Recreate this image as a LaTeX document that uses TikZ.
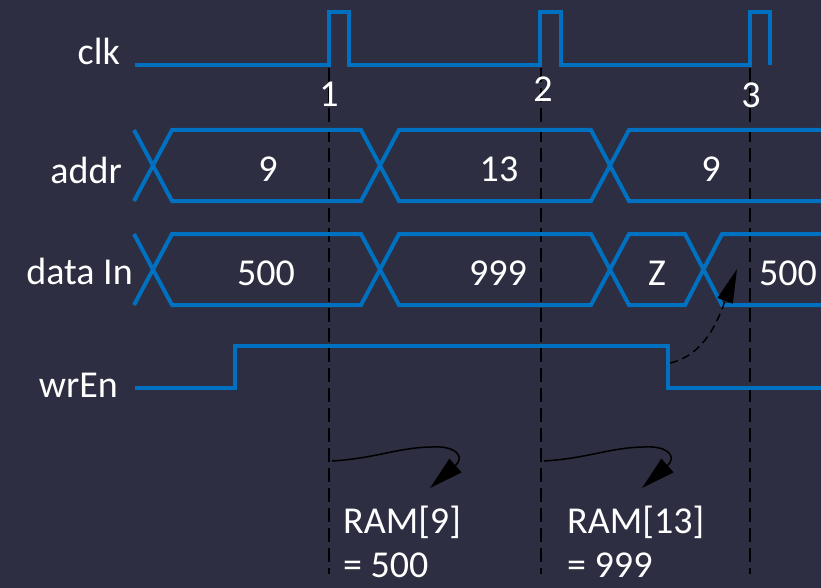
\documentclass[tikz,border=0pt]{standalone}
\usepackage{fontspec}
\setmainfont{Carlito}
\usetikzlibrary{arrows.meta}
\definecolor{bgnavy}{HTML}{2D2E41}
\definecolor{sigblue}{HTML}{0070C0}

\begin{document}
\begin{tikzpicture}[x=1pt,y=-1pt,
  sig/.style={sigblue, line width=4pt},
  edgeline/.style={black, line width=1.3pt, dash pattern=on 14pt off 6pt},
  txt/.style={text=white, inner sep=0pt, font=\fontsize{38}{46}\selectfont},
  wrarrow/.style={black, line width=1.5pt, -{Triangle[length=34pt,width=18pt]}}]
\fill[bgnavy] (0,0) rectangle (821,588);
\clip (0,0) rectangle (821,588);

% clock edges
\foreach \x in {329,541,750}
  \draw[edgeline] (\x,68) -- (\x,574);

% signal names
\node[txt, anchor=base east] (clklbl) at (120,65) {clk};
\node[txt, anchor=base east] (addrlbl) at (122,183) {addr};
\node[txt, anchor=base east] (dinlbl) at (133,284) {data In};
\node[txt, anchor=base east] (wrenlbl) at (118,397) {wrEn};

% waveforms
\draw[sig] (135,65) -- (329,65) -- (329,12) -- (349,12) -- (349,65) -- (540,65) -- (540,12)
  -- (561,12) -- (561,65) -- (750,65) -- (750,12) -- (770,12) -- (770,65);
\draw[sig] (134,130) -- (172,201) -- (361,201) -- (399,130) -- (591,130) -- (629,201) -- (830,201);
\draw[sig] (134,201) -- (172,130) -- (361,130) -- (399,201) -- (591,201) -- (629,130) -- (830,130);
\draw[sig] (134,234) -- (172,305) -- (361,305) -- (399,234) -- (591,234) -- (629,305) -- (685,305)
  -- (722,234) -- (830,234);
\draw[sig] (134,305) -- (172,234) -- (361,234) -- (399,305) -- (591,305) -- (629,234) -- (685,234)
  -- (722,305) -- (830,305);
\draw[sig] (135,388) -- (235,388) -- (235,346) -- (668,346) -- (668,388) -- (830,388);

% edge numbers
\node[txt, anchor=base] (edge1) at (329,107) {1};
\node[txt, anchor=base] (edge2) at (543,102) {2};
\node[txt, anchor=base] (edge3) at (751,108) {3};

% bus values
\node[txt, anchor=base] (addrA) at (268,182) {9};
\node[txt, anchor=base] (addrB) at (499,182) {13};
\node[txt, anchor=base] (addrC) at (711,182) {9};
\node[txt, anchor=base] (dinA) at (266,285) {500};
\node[txt, anchor=base] (dinB) at (498,285) {999};
\node[txt, anchor=base] (dinC) at (657,285) {Z};
\node[txt, anchor=base] (dinD) at (788,285) {500};

% writes
\node[txt, anchor=base west] (ram9) at (343,533) {RAM[9]};
\node[txt, anchor=base west] (ram9val) at (343,577) {= 500};
\node[txt, anchor=base west] (ram13) at (567,533) {RAM[13]};
\node[txt, anchor=base west] (ram13val) at (567,577) {= 999};

\coordinate (wr1) at (332,461);
\coordinate (wr1tip) at (430,488);
\coordinate (wr2) at (544,461);
\coordinate (wr2tip) at (642,488);
\draw[wrarrow] (wr1) .. controls (380,458) and (400,446) .. (440,447)
  .. controls (458,448) and (464,458) .. (wr1tip);
\draw[wrarrow] (wr2) .. controls (592,458) and (612,446) .. (652,447)
  .. controls (670,448) and (676,458) .. (wr2tip);

\coordinate (wrfall) at (670,363);
\coordinate (newdata) at (737,269);
\draw[wrarrow, dash pattern=on 8pt off 5pt, -{Triangle[length=34pt,width=16pt]}]
  (wrfall) .. controls (705,355) and (718,320) .. (newdata);
\end{tikzpicture}
\end{document}
